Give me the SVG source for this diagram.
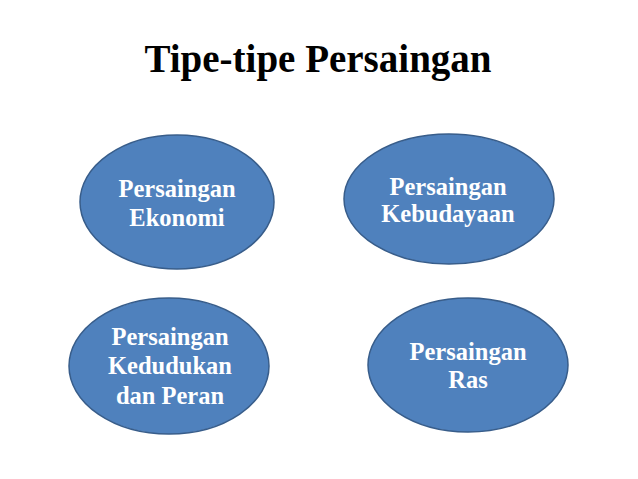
<svg xmlns="http://www.w3.org/2000/svg" width="638" height="479" viewBox="0 0 638 479">
<style>
.node ellipse { fill: #4F81BD; stroke: #385D8A; stroke-width: 1.5; }
.node text { fill: #FFFFFF; font-family: "Liberation Serif", "Times New Roman", serif; font-weight: bold; font-size: 24.5px; text-anchor: middle; }
.title { fill: #000000; font-family: "Liberation Serif", "Times New Roman", serif; font-weight: bold; font-size: 39px; text-anchor: middle; }
</style>
<rect width="638" height="479" fill="#FFFFFF"/>
<text class="title" x="318" y="72">Tipe-tipe Persaingan</text>
<g id="connectors"></g>
<g id="node-ekonomi" class="node">
<ellipse cx="177" cy="202" rx="97" ry="67"/>
<text x="177" y="197">Persaingan</text>
<text x="177" y="226">Ekonomi</text>
</g>
<g id="node-kebudayaan" class="node">
<ellipse cx="449" cy="199" rx="105" ry="65"/>
<text x="448" y="195">Persaingan</text>
<text x="448" y="222">Kebudayaan</text>
</g>
<g id="node-kedudukan" class="node">
<ellipse cx="169" cy="366" rx="100" ry="68"/>
<text x="170" y="345">Persaingan</text>
<text x="170" y="374">Kedudukan</text>
<text x="170" y="404">dan Peran</text>
</g>
<g id="node-ras" class="node">
<ellipse cx="468" cy="365" rx="100" ry="67"/>
<text x="468" y="360">Persaingan</text>
<text x="468" y="388">Ras</text>
</g>
</svg>
